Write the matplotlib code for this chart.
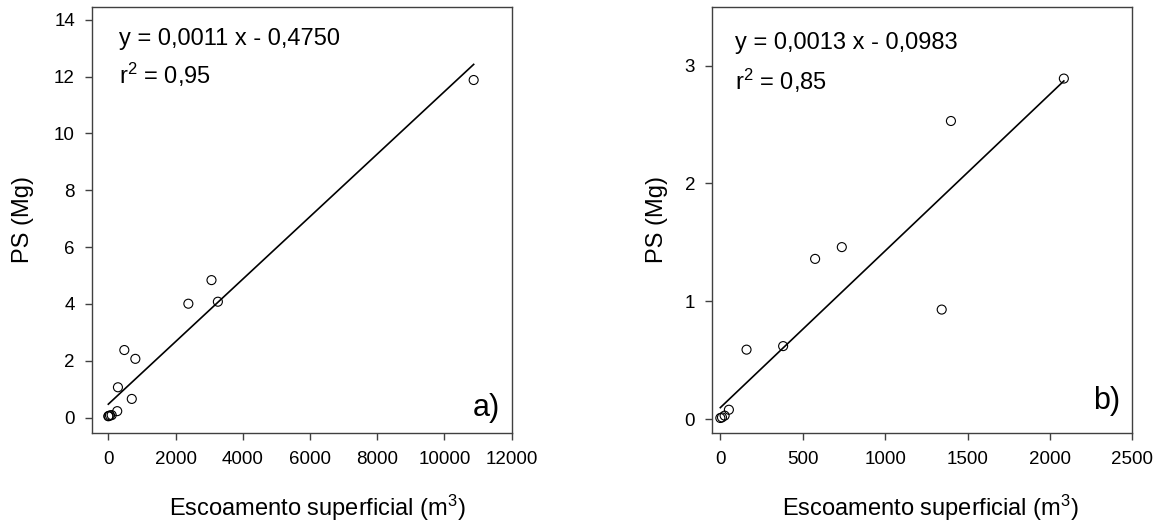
import matplotlib
matplotlib.use("Agg")
import matplotlib.pyplot as plt

plt.rcParams['font.family'] = ['Liberation Sans', 'DejaVu Sans']
plt.rcParams['mathtext.fontset'] = 'custom'
plt.rcParams['mathtext.rm'] = 'Liberation Sans'
plt.rcParams['mathtext.it'] = 'Liberation Sans'
plt.rcParams['mathtext.default'] = 'regular'

# -- dados --
# a) escoamento (m3) x perda de solo (Mg)
esc_a = [0, 10, 50, 100, 265, 286, 476, 698, 804, 2381, 3069, 3259, 10868]
ps_a = [0.05, 0.06, 0.08, 0.09, 0.23, 1.07, 2.38, 0.66, 2.07, 4.01, 4.84, 4.08, 11.88]
reta_a = (0.0011, 0.475)
eq_a = "y = 0,0011 x - 0,4750"
r2_a = "0,95"

# b)
esc_b = [0, 10, 26, 52, 159, 381, 575, 737, 1343, 1399, 2084]
ps_b = [0.01, 0.015, 0.03, 0.08, 0.59, 0.62, 1.36, 1.46, 0.93, 2.53, 2.89]
reta_b = (0.00133, 0.098)
eq_b = "y = 0,0013 x - 0,0983"
r2_b = "0,85"

xticks_a = [0, 2000, 4000, 6000, 8000, 10000, 12000]
yticks_a = [0, 2, 4, 6, 8, 10, 12, 14]
xticks_b = [0, 500, 1000, 1500, 2000, 2500]
yticks_b = [0, 1, 2, 3]

cor_eixo = '#404040'


def painel(ax, x, y, reta, eq, r2, letra, xticks, yticks, xlim, ylim,
           pos_eq, pos_r2, pos_letra, ylab_x, xlab_x):
    ax.scatter(x, y, s=42, facecolors='none', edgecolors='black',
               linewidths=0.8, zorder=3)
    x0, x1 = min(x), max(x)
    ax.plot([x0, x1], [reta[0] * x0 + reta[1], reta[0] * x1 + reta[1]],
            color='black', lw=1.2)
    ax.set_xlim(*xlim)
    ax.set_ylim(*ylim)
    ax.set_xticks(xticks)
    ax.set_yticks(yticks)
    for s in ax.spines.values():
        s.set_color(cor_eixo)
        s.set_linewidth(1.0)
    ax.tick_params(axis='both', colors=cor_eixo, labelcolor='black',
                   labelsize=13.5, length=5, width=1.0)
    ax.tick_params(axis='x', pad=8)
    ax.tick_params(axis='y', pad=7)
    ax.text(pos_eq[0], pos_eq[1], eq, fontsize=17, va='center', ha='left')
    ax.text(pos_r2[0], pos_r2[1], 'r$^{2}$ = ' + r2, fontsize=17,
            va='center', ha='left')
    ax.text(pos_letra[0], pos_letra[1], letra, fontsize=22,
            va='center', ha='right')
    ax.set_ylabel('PS (Mg)', fontsize=17)
    ax.set_xlabel('Escoamento superficial (m$^{3}$)', fontsize=17)
    ax.yaxis.set_label_coords(ylab_x, 0.5)
    ax.yaxis.label.set_va('center')
    ax.xaxis.set_label_coords(xlab_x, -0.175)
    ax.xaxis.label.set_va('center')


fig = plt.figure(figsize=(11.63, 5.26), dpi=100)
ax1 = fig.add_axes([0.0788, 0.1762, 0.3612, 0.8111])
ax2 = fig.add_axes([0.612, 0.1762, 0.3617, 0.8111])

painel(ax1, esc_a, ps_a, reta_a, eq_a, r2_a, 'a)', xticks_a, yticks_a,
       (-496, 12000), (-0.55, 14.46), (317, 13.34), (317, 12.06),
       (11640, 0.35), -0.1636, 0.5376)
painel(ax2, esc_b, ps_b, reta_b, eq_b, r2_b, 'b)', xticks_b, yticks_b,
       (-52, 2500), (-0.12, 3.5), (87, 3.19), (87, 2.87),
       (2424, 0.15), -0.130, 0.521)

fig.savefig('out.png', dpi=100)
